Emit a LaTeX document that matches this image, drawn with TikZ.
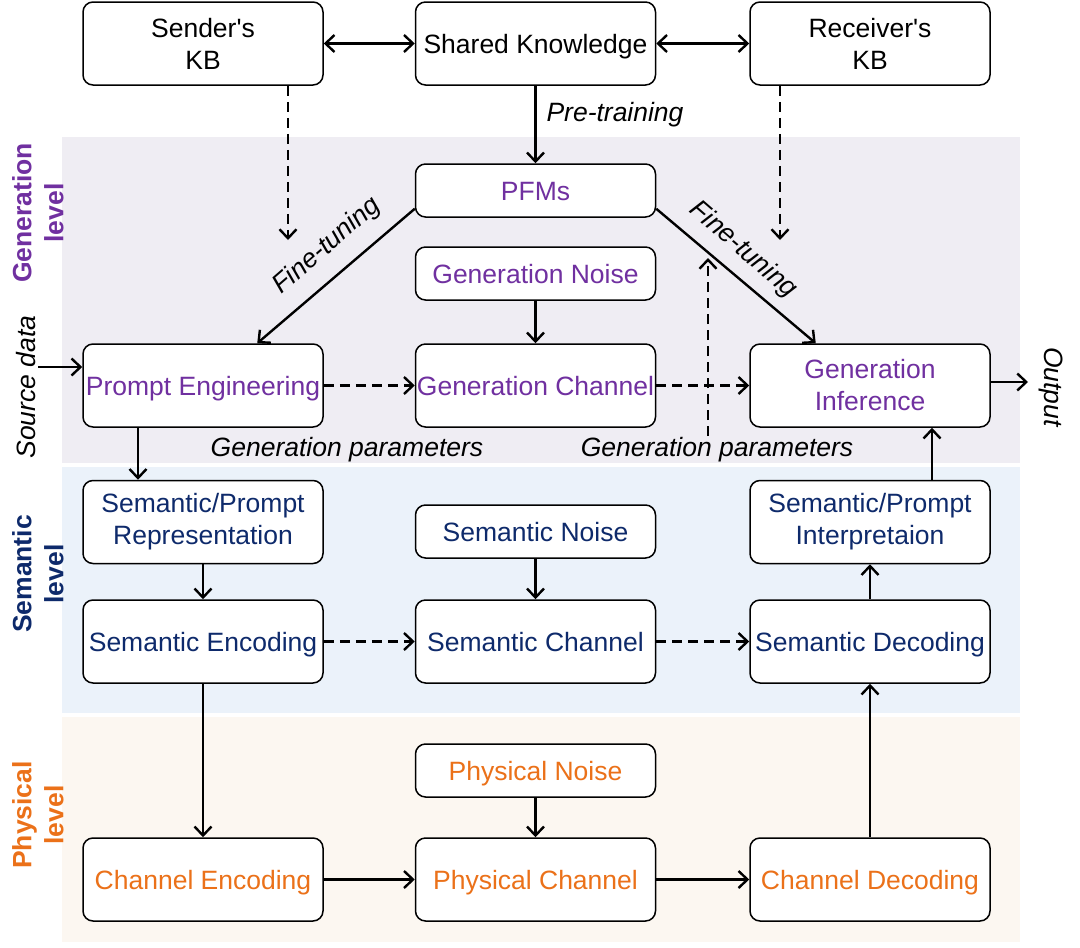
\documentclass[tikz,border=0pt]{standalone}
\usepackage{fontspec}
\setmainfont{Liberation Sans}[Ligatures=TeXOff]
\usetikzlibrary{arrows.meta}
\definecolor{genc}{HTML}{7030A0}
\definecolor{semc}{HTML}{0E2A6B}
\definecolor{phyc}{HTML}{EB7119}
\definecolor{genbg}{HTML}{EFEDF3}
\definecolor{sembg}{HTML}{EBF2FA}
\definecolor{phybg}{HTML}{FCF7F1}
\begin{document}
\begin{tikzpicture}[x=1pt,y=-1pt,
  every node/.style={font=\fontsize{26.5}{32}\selectfont},
  box/.style={draw=black,line width=1.5pt,fill=white,rounded corners=10pt,
    minimum width=240pt,minimum height=83pt,inner sep=0pt,align=center},
  sbox/.style={box,minimum height=53pt},
  one/.style={text height=19pt,text depth=0pt},
  arr/.style={line width=2.4pt,-{Straight Barb[length=9pt,width=17pt,line width=2.4pt]}},
  darr/.style={arr,dash pattern=on 10pt off 6pt},
  barr/.style={line width=2.4pt,{Straight Barb[length=9pt,width=17pt,line width=2.4pt]}-{Straight Barb[length=9pt,width=17pt,line width=2.4pt]}},
  lvl/.style={font=\fontsize{26.5}{32}\selectfont\bfseries,rotate=90,align=center},
  lab/.style={font=\fontsize{26.5}{32}\selectfont\itshape}]
\useasboundingbox (0,0) rectangle (1080,948);
% bands
\fill[genbg] (62,137) rectangle (1020,463);
\fill[sembg] (62,467) rectangle (1020,713);
\fill[phybg] (62,717) rectangle (1020,942);
% level labels
\node[lvl,text=genc] (lg) at (38,213) {Generation\\level};
\node[lvl,text=semc] (ls) at (38,574) {Semantic\\level};
\node[lvl,text=phyc] (lp) at (38,815) {Physical\\level};
% top row
\node[box] (skb) at (203,43.5) {Sender's\\KB};
\node[box,one] (shk) at (535.5,43.5) {Shared Knowledge};
\node[box] (rkb) at (870,43.5) {Receiver's\\KB};
% generation level
\node[sbox,one,text=genc] (pfm) at (535.5,190.5) {PFMs};
\node[sbox,one,text=genc] (gn) at (535.5,273.5) {Generation Noise};
\node[box,one,text=genc] (pe) at (203,385.5) {Prompt Engineering};
\node[box,one,text=genc] (gc) at (535.5,385.5) {Generation Channel};
\node[box,text=genc] (gi) at (870,385.5) {Generation\\Inference};
% semantic level
\node[box,text=semc] (spr) at (203,522) {Semantic/Prompt\\Representation};
\node[sbox,one,text=semc] (sn) at (535.5,531.5) {Semantic Noise};
\node[box,text=semc] (spi) at (870,522) {Semantic/Prompt\\Interpretaion};
\node[box,one,text=semc] (se) at (203,641.5) {Semantic Encoding};
\node[box,one,text=semc] (sc) at (535.5,641.5) {Semantic Channel};
\node[box,one,text=semc] (sd) at (870,641.5) {Semantic Decoding};
% physical level
\node[sbox,one,text=phyc] (pn) at (535.5,770.5) {Physical Noise};
\node[box,one,text=phyc] (ce) at (203,879.5) {Channel Encoding};
\node[box,one,text=phyc] (pc) at (535.5,879.5) {Physical Channel};
\node[box,one,text=phyc] (cd) at (870,879.5) {Channel Decoding};
% labels
\node[lab] (pt) at (615,115) {Pre-training};
\node[lab] (gp1) at (347,450) {Generation parameters};
\node[lab] (gp2) at (717,450) {Generation parameters};
\node[lab,rotate=41] (ft1) at (327,246) {Fine-tuning};
\node[lab,rotate=-41] (ft2) at (743,250) {Fine-tuning};
\node[lab,rotate=90] (src) at (26,387) {Source data};
\node[lab,rotate=-90] (out) at (1051,387) {Output};
% coordinates
\coordinate (sdown) at (288,240);
\coordinate (rdown) at (780,240);
\coordinate (gpup) at (708,258);
\coordinate (srcin) at (38,367);
\coordinate (outend) at (1028,382);
% connectors
\draw[barr] (skb) -- (shk);
\draw[barr] (shk) -- (rkb);
\draw[arr] (shk) -- (pfm);
\draw[darr] (skb.south -| sdown) -- (sdown);
\draw[darr] (rkb.south -| rdown) -- (rdown);
\draw[arr] ([yshift=9pt]pfm.south west) -- ([xshift=175pt]pe.north west);
\draw[arr] ([yshift=9pt]pfm.south east) -- ([xshift=-175pt]gi.north east);
\draw[arr] (gn) -- (gc);
\draw[darr] (pe) -- (gc);
\draw[darr] (gc) -- (gi);
\draw[darr] ([yshift=-2pt]gp2.north -| gpup) -- (gpup);
\draw[arr] (srcin) -- (srcin -| pe.west);
\draw[arr] (outend -| gi.east) -- (outend);
\draw[arr] ([xshift=-65pt]pe.south) -- ([xshift=-65pt]spr.north);
\draw[arr] (spr) -- (se);
\draw[arr] (sn) -- (sc);
\draw[darr] (se) -- (sc);
\draw[darr] (sc) -- (sd);
\draw[arr] (sd) -- (spi);
\draw[arr] ([xshift=62pt]spi.north) -- ([xshift=62pt]gi.south);
\draw[arr] (se) -- (ce);
\draw[arr] (pn) -- (pc);
\draw[arr] (ce) -- (pc);
\draw[arr] (pc) -- (cd);
\draw[arr] (cd) -- (sd);
\end{tikzpicture}
\end{document}
